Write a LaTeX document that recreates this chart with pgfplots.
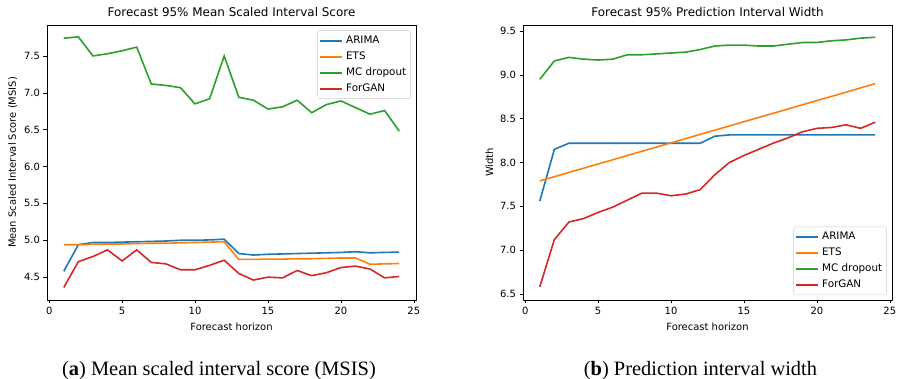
\documentclass[border=0pt]{standalone}
\usepackage{pgfplots}
\pgfplotsset{compat=1.18}
\usepackage{fontspec}
\setmainfont{DejaVu Sans}
\newfontfamily\capfont{Liberation Serif}
\definecolor{cA}{HTML}{1F77B4}
\definecolor{cE}{HTML}{FF7F0E}
\definecolor{cM}{HTML}{2CA02C}
\definecolor{cF}{HTML}{D62728}
\pgfplotsset{
  mpl/.style={
    scale only axis, width=369bp, height=275bp,
    xmin=-0.15, xmax=25.15,
    xtick={0,5,10,15,20,25},
    tick align=outside, xtick pos=bottom, ytick pos=left,
    major tick length=3.5bp,
    tick style={black, line width=0.6bp},
    axis line style={line width=0.6bp},
    /pgf/number format/assume math mode=true,
    ticklabel style={font=\fontsize{10}{12}\selectfont},
    yticklabel style={/pgf/number format/fixed, /pgf/number format/precision=1, /pgf/number format/fixed zerofill},
    xticklabel style={/pgf/number format/fixed},
    label style={font=\fontsize{10}{12}\selectfont},
    title style={font=\fontsize{12}{14}\selectfont, yshift=-1bp},
    xlabel={Forecast horizon},
    xlabel style={yshift=-1.5bp},
    legend cell align=left,
    legend style={font=\fontsize{10.4}{12}\selectfont, draw=black!20, rounded corners=2bp, fill=white, fill opacity=0.8, text opacity=1, inner xsep=1.5bp, inner ysep=2bp, row sep=0bp, column sep=0pt,
      nodes={inner xsep=3bp, inner ysep=3bp, text height=7.5bp, text depth=2.5bp}},
    legend image code/.code={\draw[#1, line width=2bp] (0bp,0bp) -- (22bp,0bp);},
    every axis plot/.append style={line width=1.6bp},
  }
}
\begin{document}
\begin{tikzpicture}
\useasboundingbox (0,0) rectangle (898bp,379bp);
\begin{axis}[mpl, at={(47bp,79bp)}, anchor=south west,
  ymin=4.19, ymax=7.92, ytick={4.5,5,5.5,6,6.5,7,7.5},
  title={Forecast 95\% Mean Scaled Interval Score},
  ylabel={Mean Scaled Interval Score (MSIS)},
  legend style={at={(0.986,0.98)}, anchor=north east}]
\addplot[color=cA] coordinates {(1,4.58)(2,4.94)(3,4.97)(4,4.97)(5,4.975)(6,4.98)(7,4.985)(8,4.99)(9,5.00)(10,5.00)(11,5.005)(12,5.015)(13,4.82)(14,4.80)(15,4.81)(16,4.815)(17,4.82)(18,4.825)(19,4.83)(20,4.835)(21,4.845)(22,4.83)(23,4.835)(24,4.84)};
\addlegendentry{ARIMA}
\addplot[color=cE] coordinates {(1,4.94)(2,4.94)(3,4.945)(4,4.95)(5,4.95)(6,4.955)(7,4.96)(8,4.96)(9,4.965)(10,4.97)(11,4.975)(12,4.98)(13,4.74)(14,4.74)(15,4.745)(16,4.745)(17,4.75)(18,4.75)(19,4.755)(20,4.76)(21,4.76)(22,4.675)(23,4.68)(24,4.685)};
\addlegendentry{ETS}
\addplot[color=cM] coordinates {(1,7.74)(2,7.76)(3,7.50)(4,7.53)(5,7.57)(6,7.62)(7,7.12)(8,7.10)(9,7.07)(10,6.85)(11,6.92)(12,7.50)(13,6.94)(14,6.90)(15,6.78)(16,6.81)(17,6.90)(18,6.73)(19,6.84)(20,6.89)(21,6.80)(22,6.71)(23,6.76)(24,6.48)};
\addlegendentry{MC dropout}
\addplot[color=cF] coordinates {(1,4.36)(2,4.71)(3,4.78)(4,4.87)(5,4.72)(6,4.87)(7,4.70)(8,4.68)(9,4.60)(10,4.60)(11,4.66)(12,4.73)(13,4.55)(14,4.46)(15,4.50)(16,4.49)(17,4.59)(18,4.52)(19,4.56)(20,4.63)(21,4.65)(22,4.61)(23,4.49)(24,4.51)};
\addlegendentry{ForGAN}
\end{axis}
\begin{axis}[mpl, at={(523bp,79bp)}, anchor=south west,
  ymin=6.43, ymax=9.57, ytick={6.5,7,7.5,8,8.5,9,9.5},
  title={Forecast 95\% Prediction Interval Width},
  ylabel={Width},
  legend style={at={(0.986,0.018)}, anchor=south east}]
\addplot[color=cA] coordinates {(1,7.56)(2,8.15)(3,8.22)(4,8.22)(5,8.22)(6,8.22)(7,8.22)(8,8.22)(9,8.22)(10,8.22)(11,8.22)(12,8.22)(13,8.30)(14,8.315)(15,8.315)(16,8.315)(17,8.315)(18,8.315)(19,8.315)(20,8.315)(21,8.315)(22,8.315)(23,8.315)(24,8.315)};
\addlegendentry{ARIMA}
\addplot[color=cE] coordinates {(1,7.790)(2,7.838)(3,7.887)(4,7.935)(5,7.983)(6,8.031)(7,8.080)(8,8.128)(9,8.176)(10,8.224)(11,8.273)(12,8.321)(13,8.369)(14,8.417)(15,8.466)(16,8.514)(17,8.562)(18,8.610)(19,8.659)(20,8.707)(21,8.755)(22,8.803)(23,8.852)(24,8.900)};
\addlegendentry{ETS}
\addplot[color=cM] coordinates {(1,8.95)(2,9.16)(3,9.20)(4,9.18)(5,9.17)(6,9.18)(7,9.23)(8,9.23)(9,9.24)(10,9.25)(11,9.26)(12,9.29)(13,9.33)(14,9.34)(15,9.34)(16,9.33)(17,9.33)(18,9.35)(19,9.37)(20,9.37)(21,9.39)(22,9.40)(23,9.42)(24,9.43)};
\addlegendentry{MC dropout}
\addplot[color=cF] coordinates {(1,6.58)(2,7.12)(3,7.32)(4,7.36)(5,7.43)(6,7.49)(7,7.57)(8,7.65)(9,7.65)(10,7.62)(11,7.64)(12,7.69)(13,7.86)(14,8.00)(15,8.08)(16,8.15)(17,8.22)(18,8.28)(19,8.35)(20,8.39)(21,8.40)(22,8.43)(23,8.39)(24,8.46)};
\addlegendentry{ForGAN}
\end{axis}
\node[font=\capfont\fontsize{20.5}{24}\selectfont, anchor=base] at (219bp,4bp) {(\textbf{a}) Mean scaled interval score (MSIS)};
\node[font=\capfont\fontsize{20.5}{24}\selectfont, anchor=base] at (700.5bp,4bp) {(\textbf{b}) Prediction interval width};
\end{tikzpicture}
\end{document}
